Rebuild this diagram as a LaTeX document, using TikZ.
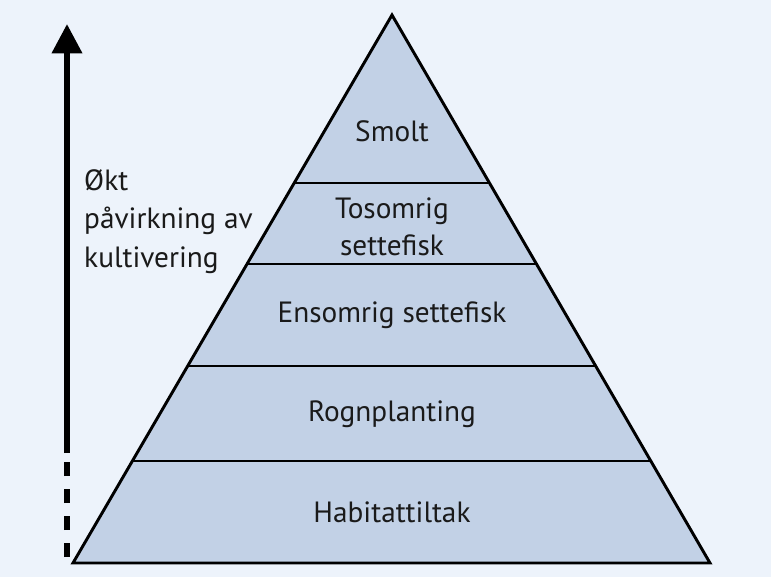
\documentclass[tikz,border=0pt]{standalone}
\usepackage{fontspec}
\setmainfont{PT Sans}
\usetikzlibrary{calc,arrows.meta}
\definecolor{pagebg}{HTML}{EDF3FB}
\definecolor{layerfill}{HTML}{C2D1E6}
\definecolor{ink}{HTML}{1A1A1A}
\begin{document}
\begin{tikzpicture}[
  x=0.03cm, y=-0.03cm,
  label text/.style={font=\fontsize{25}{30}\selectfont, text=ink, align=center, inner sep=0pt},
  layer line/.style={line width=1.8pt},
  outline/.style={line width=2.5pt, line join=miter},
  trend/.style={line width=5pt}
]
% Background
\fill[pagebg] (0,0) rectangle (771,577);
\useasboundingbox (0,0) rectangle (771,577);
% Pyramid
\coordinate (apex) at (392,15);
\coordinate (base left) at (73,563);
\coordinate (base right) at (710,563);
\fill[layerfill] (apex) -- (base left) -- (base right) -- cycle;
\foreach \y in {183,264,366,461} {
  \draw[layer line] ($(apex)!{(\y-15)/548}!(base left)$) -- ($(apex)!{(\y-15)/548}!(base right)$);
}
\draw[outline] (apex) -- (base left) -- (base right) -- cycle;
% Layers
\node[label text] (smolt) at (392,131) {Smolt};
\node[label text] (tosomrig) at (392,227) {Tosomrig\\[2pt]settefisk};
\node[label text] (ensomrig) at (392,315) {Ensomrig settefisk};
\node[label text] (rogn) at (392,414) {Rognplanting};
\node[label text] (habitat) at (392,512) {Habitattiltak};
% Arrow
\coordinate (arrow tip) at (67,24);
\coordinate (dash start) at (67,453);
\coordinate (arrow foot) at (67,557);
\coordinate (dash top) at (67,460);
\draw[trend, -{Triangle[width=25pt,length=25pt]}] (dash start) -- (arrow tip);
\draw[trend, dash pattern=on 12pt off 11pt] (arrow foot) -- (dash top);
\node[label text, align=left, anchor=north west] (effect) at (84,169) {Økt\\[3pt]påvirkning av\\[3pt]kultivering};
\end{tikzpicture}
\end{document}
